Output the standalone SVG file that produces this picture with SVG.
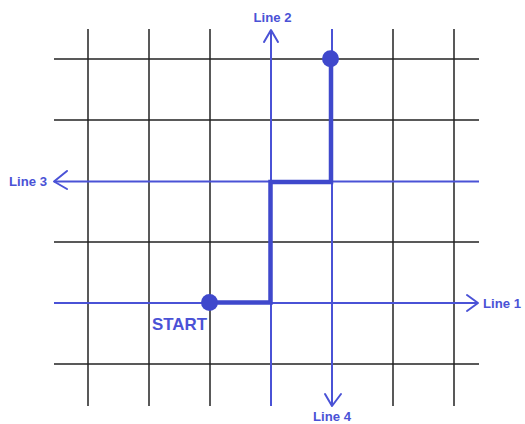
<svg xmlns="http://www.w3.org/2000/svg" width="525" height="424" viewBox="0 0 525 424">
<style>
.grid line{stroke:#222;stroke-width:1.5}
.ln{stroke:#4a52d6;stroke-width:2;fill:none}
.arr{stroke:#4a52d6;stroke-width:2;fill:none;stroke-linecap:round;stroke-linejoin:round}
.lbl{font-family:"Liberation Sans",Arial,sans-serif;font-weight:bold;font-size:13.5px;fill:#4a52d6}
.path{stroke:#3f48cc;stroke-width:4.5;fill:none;stroke-linejoin:miter}
.dot{fill:#3f48cc}
</style>
<rect width="525" height="424" fill="#fff"/>
<g class="grid" id="grid">
<line x1="88" y1="29" x2="88" y2="406"/>
<line x1="149" y1="29" x2="149" y2="406"/>
<line x1="210" y1="29" x2="210" y2="406"/>
<line x1="393" y1="29" x2="393" y2="406"/>
<line x1="454" y1="29" x2="454" y2="406"/>
<line x1="332" y1="29" x2="332" y2="59"/>
<line x1="54" y1="59" x2="479" y2="59"/>
<line x1="54" y1="120" x2="479" y2="120"/>
<line x1="54" y1="242" x2="479" y2="242"/>
<line x1="54" y1="364" x2="479" y2="364"/>
</g>
<g id="connectors">
<g id="line1"><line class="ln" x1="54" y1="303" x2="477" y2="303"/><polyline class="arr" points="467,295 478,303 467,311"/></g>
<g id="line2"><line class="ln" x1="271" y1="406" x2="271" y2="31"/><polyline class="arr" points="264,42 271,30 278,42"/></g>
<g id="line3"><line class="ln" x1="479" y1="181.5" x2="54" y2="181.5"/><polyline class="arr" points="67,171 54,181.5 67,189"/></g>
<g id="line4"><line class="ln" x1="332" y1="29" x2="332" y2="405"/><polyline class="arr" points="325,394 332,406 341,394"/></g>
<path class="path" d="M209.5,302.5 H270.5 V182 H331 V59"/>
</g>
<g id="start"><circle class="dot" cx="209.5" cy="302.5" r="8.5"/><text class="lbl" x="179.5" y="329.5" text-anchor="middle" font-size="17" style="font-size:17px" textLength="55" lengthAdjust="spacingAndGlyphs">START</text></g>
<g id="end"><circle class="dot" cx="330.5" cy="58.7" r="8.5"/></g>
<g id="labels">
<text class="lbl" x="272.5" y="22" text-anchor="middle" textLength="38" lengthAdjust="spacingAndGlyphs">Line 2</text>
<text class="lbl" x="9" y="186" textLength="38" lengthAdjust="spacingAndGlyphs">Line 3</text>
<text class="lbl" x="483" y="308" textLength="38" lengthAdjust="spacingAndGlyphs">Line 1</text>
<text class="lbl" x="332" y="421" text-anchor="middle" textLength="38" lengthAdjust="spacingAndGlyphs">Line 4</text>
</g>
</svg>
